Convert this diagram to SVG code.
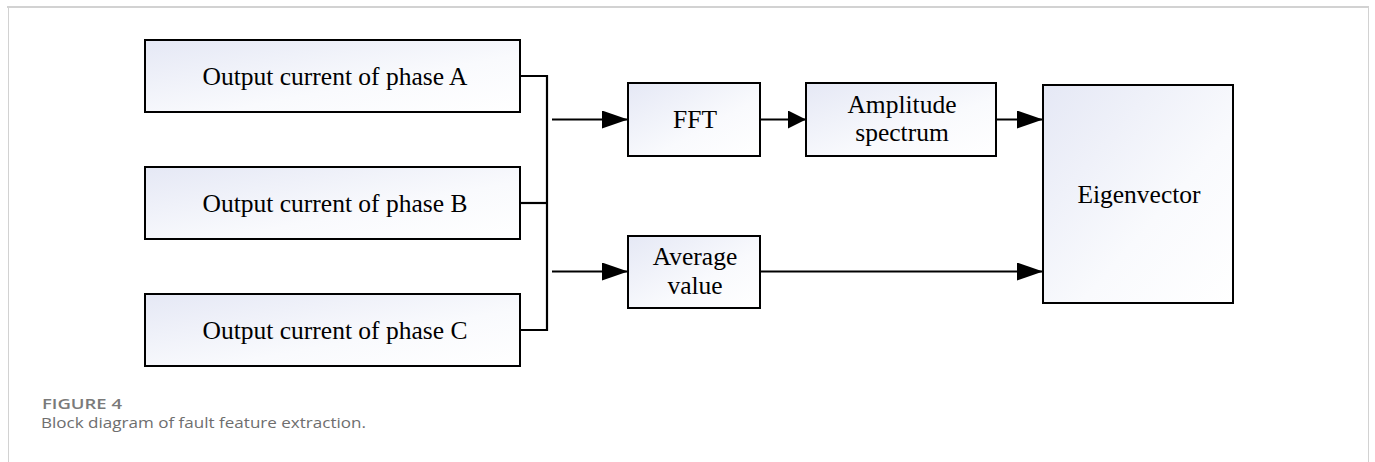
<svg xmlns="http://www.w3.org/2000/svg" width="1375" height="462" viewBox="0 0 1375 462">
  <defs>
    <linearGradient id="boxFill" x1="0" y1="0" x2="1" y2="1">
      <stop offset="0" stop-color="#e5e8f5"/>
      <stop offset="0.6" stop-color="#f9fafd"/>
      <stop offset="1" stop-color="#ffffff"/>
    </linearGradient>
    <marker id="arrow" viewBox="0 0 26 18" refX="26" refY="9" markerWidth="26" markerHeight="18" markerUnits="userSpaceOnUse" orient="auto">
      <path d="M0,0 L26,9 L0,18 Z" fill="#000"/>
    </marker>
    <marker id="arrowShort" viewBox="0 0 18 18" refX="18" refY="9" markerWidth="18" markerHeight="18" markerUnits="userSpaceOnUse" orient="auto">
      <path d="M0,0 L18,9 L0,18 Z" fill="#000"/>
    </marker>
  </defs>
  <style>
    .box { fill: url(#boxFill); stroke: #000; stroke-width: 2; }
    .label { font-family: "Liberation Serif", "Times New Roman", serif; font-size: 25.5px; fill: #000; text-anchor: middle; }
    .wire { fill: none; stroke: #000; stroke-width: 2.2; }
    .frame { stroke: #d2d2d2; fill: none; }
    .figno { font-family: "Open Sans", "Liberation Sans", sans-serif; font-size: 14.5px; font-weight: 600; fill: #7a7a7a; }
    .caption { font-family: "Open Sans", "Liberation Sans", sans-serif; font-size: 14.5px; fill: #6e6e6e; }
  </style>

  <!-- card frame -->
  <g id="frame">
    <line class="frame" x1="7" y1="7" x2="1369" y2="7" stroke-width="2"/>
    <line class="frame" x1="8.5" y1="7" x2="8.5" y2="462" stroke-width="1"/>
    <line class="frame" x1="1368.5" y1="7" x2="1368.5" y2="462" stroke-width="1"/>
  </g>

  <!-- connectors -->
  <g id="connectors">
    <polyline class="wire" points="520,76 547,76 547,330 520,330"/>
    <line class="wire" x1="520" y1="203" x2="547" y2="203"/>
    <line class="wire" x1="552" y1="119.5" x2="628" y2="119.5" marker-end="url(#arrow)"/>
    <line class="wire" x1="552" y1="271.5" x2="628" y2="271.5" marker-end="url(#arrow)"/>
    <line class="wire" x1="760" y1="119.5" x2="806" y2="119.5" marker-end="url(#arrowShort)"/>
    <line class="wire" x1="996" y1="119.5" x2="1043" y2="119.5" marker-end="url(#arrow)"/>
    <line class="wire" x1="760" y1="271.5" x2="1043" y2="271.5" marker-end="url(#arrow)"/>
  </g>

  <g id="phaseA">
    <rect class="box" x="145" y="40" width="375" height="72"/>
    <text class="label" x="335" y="85">Output current of phase A</text>
  </g>
  <g id="phaseB">
    <rect class="box" x="145" y="167" width="375" height="72"/>
    <text class="label" x="335" y="212">Output current of phase B</text>
  </g>
  <g id="phaseC">
    <rect class="box" x="145" y="294" width="375" height="72"/>
    <text class="label" x="335" y="339">Output current of phase C</text>
  </g>
  <g id="fft">
    <rect class="box" x="628" y="83" width="132" height="73"/>
    <text class="label" x="695" y="128">FFT</text>
  </g>
  <g id="amplitude">
    <rect class="box" x="806" y="83" width="190" height="73"/>
    <text class="label" x="902" y="113">Amplitude</text>
    <text class="label" x="902" y="141">spectrum</text>
  </g>
  <g id="average">
    <rect class="box" x="628" y="236" width="132" height="72"/>
    <text class="label" x="695" y="265">Average</text>
    <text class="label" x="695" y="294">value</text>
  </g>
  <g id="eigenvector">
    <rect class="box" x="1043" y="85" width="190" height="218"/>
    <text class="label" x="1139" y="203">Eigenvector</text>
  </g>

  <!-- caption -->
  <g id="caption">
    <text class="figno" x="42" y="408.5" textLength="80" lengthAdjust="spacingAndGlyphs">FIGURE 4</text>
    <text class="caption" x="41" y="428" textLength="325" lengthAdjust="spacingAndGlyphs">Block diagram of fault feature extraction.</text>
  </g>
</svg>
